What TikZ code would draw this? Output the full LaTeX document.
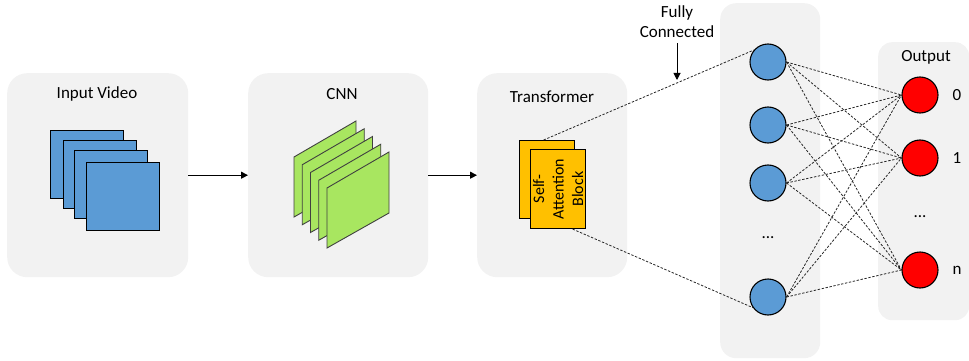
\documentclass[tikz,border=0pt]{standalone}
\usepackage{fontspec}
\setmainfont{Carlito}
\usetikzlibrary{arrows.meta}
\definecolor{panelgray}{RGB}{242,242,242}
\definecolor{vidblue}{RGB}{91,155,213}
\definecolor{cnngreen}{RGB}{168,230,96}
\definecolor{sagold}{RGB}{255,192,0}
\definecolor{outred}{RGB}{255,0,0}
\begin{document}
\begin{tikzpicture}[x=1pt,y=-1pt,
  panel/.style={fill=panelgray,draw=none,rounded corners=20pt,rectangle,inner sep=0pt,anchor=north west},
  ttl/.style={font=\fontsize{17}{20}\selectfont,inner sep=0pt,align=center},
  frame/.style={draw=black,line width=1.1pt,fill=vidblue,rectangle,inner sep=0pt,minimum width=73pt,minimum height=68pt,anchor=north west},
  sheet/.style={draw=black!75,line width=0.9pt,fill=cnngreen,line join=miter},
  sabox/.style={draw=black,line width=1.1pt,fill=sagold,rectangle,inner sep=0pt,minimum width=55pt,minimum height=78pt,anchor=north west},
  neuron/.style={circle,draw=black,line width=1.1pt,fill=vidblue,minimum size=36pt,inner sep=0pt},
  outn/.style={circle,draw=black,line width=1.1pt,fill=outred,minimum size=36pt,inner sep=0pt},
  arr/.style={-{Triangle[length=7pt,width=7pt]},line width=1pt,black},
  fcline/.style={line width=0.8pt,black!85,dash pattern=on 2.4pt off 1.6pt}
]
\useasboundingbox (0,0) rectangle (969,361);
% panels
\node[panel,minimum width=181pt,minimum height=204pt] (p1) at (7,73) {};
\node[panel,minimum width=180pt,minimum height=204pt] (p2) at (248,73) {};
\node[panel,minimum width=150pt,minimum height=204pt] (p3) at (477,73) {};
\node[panel,minimum width=100pt,minimum height=355pt,rounded corners=16pt] (p4) at (720,3) {};
\node[panel,minimum width=91pt,minimum height=278pt,rounded corners=14pt] (p5) at (878,42) {};
% titles
\node[ttl] (t1) at (97,94) {Input Video};
\node[ttl] (t2) at (342,94) {CNN};
\node[ttl] (t3) at (552,97) {Transformer};
\node[ttl] (t5) at (926,57) {Output};
% video frames
\node[frame] (v1) at (50,130) {};
\node[frame] (v2) at (63,140) {};
\node[frame] (v3) at (74,150) {};
\node[frame] (v4) at (86,162) {};
% CNN sheets
\foreach \i in {0,...,4}{
  \draw[sheet,shift={(8.25*\i,7.75*\i)}] (294,157) -- (356,121) -- (356,182) -- (294,217) -- cycle;
}
% self-attention blocks
\node[sabox] (sa1) at (519,140) {};
\node[sabox,minimum height=79pt] (sa2) at (530,149) {};
\node[font=\fontsize{16}{19.5}\selectfont,align=center,rotate=90,inner sep=0pt] (satext) at (sa2.center) {Self-\\Attention\\Block};
% arrows between panels
\draw[arr] (p1.east) -- (p2.west);
\draw[arr] (p2.east) -- (p3.west);
% neurons
\node[neuron] (b1) at (768,62) {};
\node[neuron] (b2) at (768,125) {};
\node[neuron] (b3) at (768,183) {};
\node[neuron] (b4) at (768,297) {};
\node[ttl] (bdots) at (768,238) {...};
\node[outn] (r1) at (920,95) {};
\node[outn] (r2) at (920,158) {};
\node[outn] (r3) at (920,270) {};
\node[ttl] (rdots) at (920,217) {...};
\node[ttl] (l0) at (957,95) {0};
\node[ttl] (l1) at (957,158) {1};
\node[ttl] (ln) at (957,270) {n};
% fully connected lines
\draw[fcline] (sa1.95) -- (b1.140);
\draw[fcline] (sa2.-70) -- (b4.215);
\foreach \b in {b1,b2,b3,b4}{
  \foreach \r in {r1,r2,r3}{
    \draw[fcline] (\b.east) -- (\r.west);
  }
}
% fully connected label
\node[ttl,font=\fontsize{17}{20}\selectfont] (fc) at (677,22) {Fully\\Connected};
\coordinate (fct) at (677,80);
\draw[arr] ([yshift=-5pt]fc.south) -- (fct);
\end{tikzpicture}
\end{document}
